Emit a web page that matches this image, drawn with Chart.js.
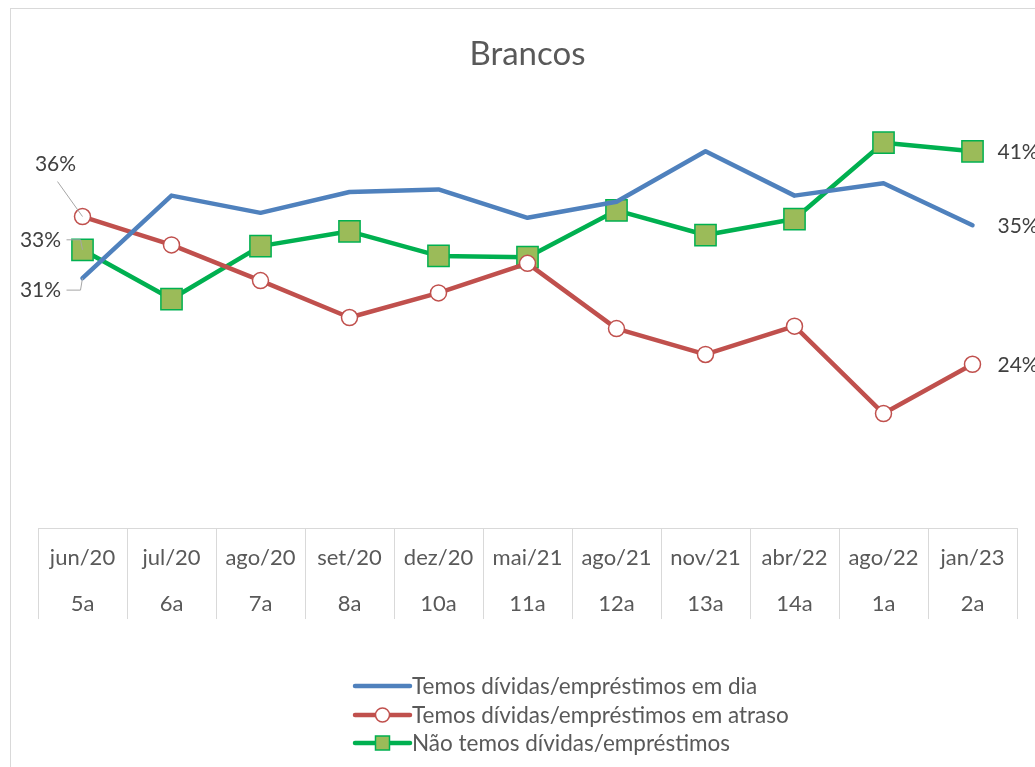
<!DOCTYPE html>
<html>
<head>
<meta charset="utf-8">
<script src="https://cdn.jsdelivr.net/npm/chart.js@4.4.1/dist/chart.umd.min.js"></script>
<style>
  html, body { margin: 0; padding: 0; background: #fff; }
  #wrap { width: 1035px; height: 767px; position: relative; }
</style>
</head>
<body>
<div id="wrap"><canvas id="brancos" width="1035" height="767"></canvas></div>
<script>
const meses = ['jun/20', 'jul/20', 'ago/20', 'set/20', 'dez/20', 'mai/21', 'ago/21', 'nov/21', 'abr/22', 'ago/22', 'jan/23'];
const ondas = ['5a', '6a', '7a', '8a', '10a', '11a', '12a', '13a', '14a', '1a', '2a'];

const emDia      = [31.0, 37.7, 36.3, 38.0, 38.2, 35.9, 37.2, 41.3, 37.7, 38.7, 35.3];
const emAtraso   = [36.0, 33.7, 30.8, 27.8, 29.8, 32.2, 26.9, 24.8, 27.1, 20.0, 24.0];
const semDividas = [33.3, 29.3, 33.6, 34.8, 32.8, 32.7, 36.5, 34.5, 35.8, 42.0, 41.3];

const FONT = 'Lato, "Noto Sans", sans-serif';
const GRID = '#d9d9d9';

// leader-line labels on first point, plain labels on last point
const firstLabelOffsets = [
  { dx: -42, dy: 12 },   // em dia
  { dx: -27, dy: -52 },  // em atraso
  { dx: -42, dy: -10 }   // sem dívidas
];

const rotulos = {
  id: 'rotulos',
  afterDatasetsDraw(chart) {
    const ctx = chart.ctx;
    ctx.save();
    ctx.font = '21px ' + FONT;
    ctx.fillStyle = '#404040';
    ctx.textBaseline = 'middle';
    ctx.strokeStyle = '#a6a6a6';
    ctx.lineWidth = 1;
    chart.data.datasets.forEach((ds, i) => {
      const pts = chart.getDatasetMeta(i).data;
      const p0 = pts[0];
      const off = firstLabelOffsets[i];
      const tx = p0.x + off.dx, ty = p0.y + off.dy;
      ctx.beginPath();
      if (i === 1) {
        ctx.moveTo(tx + 2, ty + 17);
        ctx.lineTo(p0.x, p0.y);
      } else {
        ctx.moveTo(tx + 26, ty);
        ctx.lineTo(p0.x - 2, ty);
        ctx.lineTo(p0.x, p0.y);
      }
      ctx.stroke();
      ctx.textAlign = 'center';
      ctx.fillText(Math.round(ds.data[0]) + '%', tx, ty);
      const pn = pts[pts.length - 1];
      ctx.textAlign = 'left';
      ctx.fillText(Math.round(ds.data[ds.data.length - 1]) + '%', pn.x + 25, pn.y + 1);
    });
    ctx.restore();
  }
};

const moldura = {
  id: 'moldura',
  beforeDraw(chart) {
    const ctx = chart.ctx;
    ctx.save();
    ctx.strokeStyle = GRID;
    ctx.lineWidth = 1;
    ctx.strokeRect(10.5, 8.5, 1040, 800);
    ctx.restore();
  }
};

// vertical separators between category labels
const separadores = {
  id: 'separadores',
  afterDraw(chart) {
    const x = chart.scales.x;
    const ctx = chart.ctx;
    ctx.save();
    ctx.strokeStyle = GRID;
    ctx.lineWidth = 1;
    ctx.beginPath();
    for (let i = 0; i <= meses.length; i++) {
      const px = Math.round(x.getPixelForValue(i - 0.5)) + 0.5;
      ctx.moveTo(px, x.top);
      ctx.lineTo(px, x.top + 91);
    }
    ctx.stroke();
    ctx.restore();
  }
};

const legenda = {
  id: 'legenda',
  afterDraw(chart) {
    const ctx = chart.ctx;
    const x0 = 355, x1 = 410, ys = [686, 715, 743];
    ctx.save();
    chart.data.datasets.forEach((ds, i) => {
      const y = ys[i];
      ctx.strokeStyle = ds.borderColor;
      ctx.lineWidth = 4.5;
      ctx.lineCap = 'round';
      ctx.beginPath();
      ctx.moveTo(x0, y);
      ctx.lineTo(x1, y);
      ctx.stroke();
      const cx = (x0 + x1) / 2;
      if (ds.pointStyle === 'circle' && ds.pointRadius > 0) {
        ctx.beginPath();
        ctx.arc(cx, y, 7, 0, Math.PI * 2);
        ctx.fillStyle = ds.pointBackgroundColor;
        ctx.fill();
        ctx.lineWidth = 1.5;
        ctx.strokeStyle = ds.pointBorderColor;
        ctx.stroke();
      } else if (ds.pointStyle === 'rect') {
        ctx.fillStyle = ds.pointBackgroundColor;
        ctx.fillRect(cx - 7, y - 7, 14, 14);
        ctx.lineWidth = 1.5;
        ctx.strokeStyle = ds.pointBorderColor;
        ctx.strokeRect(cx - 7, y - 7, 14, 14);
      }
      ctx.fillStyle = '#595959';
      ctx.font = '22.5px ' + FONT;
      ctx.textAlign = 'left';
      ctx.textBaseline = 'middle';
      ctx.fillText(ds.label, x1 + 2, y + 1);
    });
    ctx.restore();
  }
};

new Chart(document.getElementById('brancos'), {
  type: 'line',
  data: {
    labels: meses.map((m, i) => [m, ondas[i]]),
    datasets: [
      {
        label: 'Temos dívidas/empréstimos em dia',
        data: emDia,
        borderColor: '#4f81bd',
        backgroundColor: '#4f81bd',
        borderWidth: 4.5,
        pointRadius: 0,
        pointStyle: 'circle',
        borderJoinStyle: 'round',
        borderCapStyle: 'round'
      },
      {
        label: 'Temos dívidas/empréstimos em atraso',
        data: emAtraso,
        borderColor: '#c0504d',
        backgroundColor: '#ffffff',
        borderWidth: 4.5,
        pointStyle: 'circle',
        pointRadius: 8,
        pointBackgroundColor: '#ffffff',
        pointBorderColor: '#c0504d',
        pointBorderWidth: 1.5,
        borderJoinStyle: 'round',
        borderCapStyle: 'round'
      },
      {
        label: 'Não temos dívidas/empréstimos',
        data: semDividas,
        borderColor: '#00b050',
        backgroundColor: '#9bbb59',
        borderWidth: 4.5,
        pointStyle: 'rect',
        pointRadius: 15,
        pointBackgroundColor: '#9bbb59',
        pointBorderColor: '#00b050',
        pointBorderWidth: 1.5,
        borderJoinStyle: 'round',
        borderCapStyle: 'round'
      }
    ]
  },
  options: {
    responsive: false,
    animation: false,
    clip: false,
    layout: { padding: { left: 38, right: 18, top: 0, bottom: 133 } },
    plugins: {
      legend: { display: false },
      tooltip: { enabled: false },
      title: {
        display: true,
        text: 'Brancos',
        color: '#595959',
        font: { family: FONT, size: 33, weight: 'normal' },
        padding: { top: 35, bottom: 25 }
      }
    },
    scales: {
      y: { display: false, min: 10.7, max: 45.5 },
      x: {
        offset: true,
        grid: { display: false, drawTicks: false },
        border: { display: true, color: GRID, width: 1 },
        ticks: {
          color: '#595959',
          font: { family: FONT, size: 22, lineHeight: 2.09 },
          padding: 7,
          maxRotation: 0,
          autoSkip: false
        }
      }
    }
  },
  plugins: [moldura, separadores, rotulos, legenda]
});
</script>
</body>
</html>
